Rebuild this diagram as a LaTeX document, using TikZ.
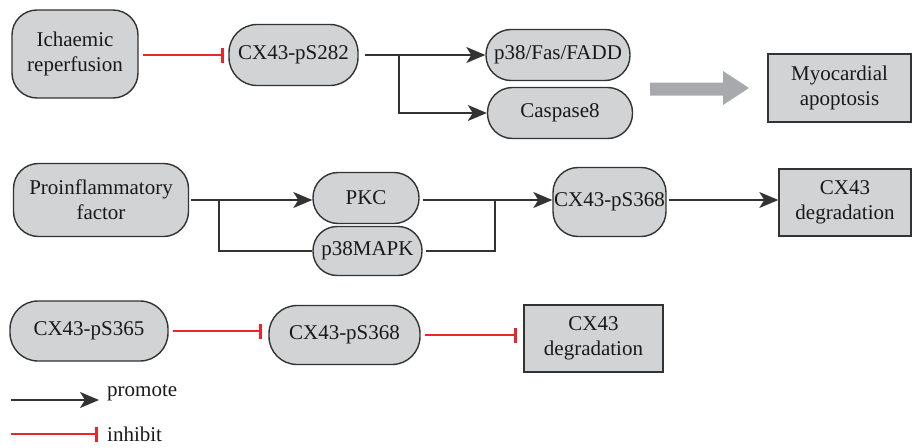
\documentclass[tikz,border=0pt]{standalone}
\usepackage{fontspec}
\setmainfont{Liberation Serif}
\usetikzlibrary{arrows.meta}
\definecolor{boxgray}{HTML}{D1D3D4}
\definecolor{edgegray}{HTML}{333333}
\definecolor{inhred}{HTML}{E8262B}
\definecolor{bigarrow}{HTML}{A7A9AC}
\begin{document}
\begin{tikzpicture}[x=1pt,y=-1pt,
    font=\fontsize{21}{25}\selectfont,
    box/.style={draw=edgegray,line width=1.4pt,fill=boxgray,inner sep=0pt,align=center,text=black!90},
    pill/.style={box,rounded corners=#1},
    link/.style={line width=1.3pt,black!80},
    promote/.style={link,-{Stealth[length=19pt,width=16pt,inset=5pt]}},
    inhibit/.style={-{Bar[width=15pt,line width=3pt]},line width=1.4pt,inhred}]
  \useasboundingbox (0,0) rectangle (912,447);
  \draw
    (75,54) node[pill=25pt,minimum width=126pt,minimum height=88pt] (isch){Ichaemic\\reperfusion}
    (293.5,55) node[pill=28pt,minimum width=129pt,minimum height=61pt] (s282){CX43-pS282}
    (558,55) node[pill=25pt,minimum width=144pt,minimum height=51pt] (fadd){p38/Fas/FADD}
    (560,113) node[pill=25pt,minimum width=145pt,minimum height=51pt] (casp){Caspase8}
    (839.5,88) node[box,minimum width=143pt,minimum height=68pt] (apop){Myocardial\\apoptosis}
    (101,200) node[pill=25pt,minimum width=175pt,minimum height=73pt] (infl){Proinflammatory\\factor}
    (366,198) node[pill=25pt,minimum width=106pt,minimum height=51pt] (pkc){PKC}
    (367.5,251) node[pill=24pt,minimum width=109pt,minimum height=49pt] (p38m){p38MAPK}
    (609.5,202) node[pill=25pt,minimum width=113pt,minimum height=69pt] (s368a){CX43-pS368}
    (845,202.5) node[box,minimum width=132pt,minimum height=67pt] (dega){CX43\\degradation}
    (89,331) node[pill=28pt,minimum width=158pt,minimum height=60pt] (s365){CX43-pS365}
    (344.5,335) node[pill=28pt,minimum width=151pt,minimum height=59pt] (s368b){CX43-pS368}
    (593.5,338.5) node[box,minimum width=139pt,minimum height=67pt] (degb){CX43\\degradation};
  % junctions
  \coordinate (j282) at (399,55);
  \coordinate (jinfl) at (219,200);
  \coordinate (jkin) at (495,200);
  % big grey arrow
  \fill[bigarrow] (650,82.5) -- (723,82.5) -- (723,71) -- (749,88)
    -- (723,105) -- (723,95.5) -- (650,95.5) -- cycle;
  \begin{scope}[shorten <=6pt]
    \draw[promote] (s282.east) -- (fadd.west);
    \draw[promote,shorten <=0pt] (j282) |- (casp.west);
    \draw[promote,shorten <=2pt] (infl.east |- jinfl) -- (jinfl -| pkc.west);
    \draw[link,shorten <=0pt] (jinfl) |- (p38m.west);
    \draw[link,shorten <=3pt] (pkc.east |- jkin) -- (jkin);
    \draw[link,shorten <=3pt] (p38m.east) -| (jkin);
    \draw[promote,shorten <=0pt] (jkin) -- (jkin -| s368a.west);
    \draw[promote,shorten <=2pt] (s368a.east |- jkin) -- (jkin -| dega.west);
  \end{scope}
  \begin{scope}[shorten <=4pt,shorten >=4pt]
    \draw[inhibit] (isch.east |- s282.west) -- (s282.west);
    \draw[inhibit,shorten >=6pt] (s365.east) -- (s365.east -| s368b.west);
    \draw[inhibit,shorten >=6pt] (s368b.east) -- (s368b.east -| degb.west);
  \end{scope}
  % legend
  \coordinate (promL) at (11,400);
  \coordinate (promR) at (99,400);
  \coordinate (inhL) at (11,434);
  \coordinate (inhR) at (98,434);
  \draw[promote] (promL) -- (promR);
  \draw[inhibit] (inhL) -- (inhR);
  \node[anchor=base west,inner sep=0pt,text=black!90] (promtxt) at (107,396) {promote};
  \node[anchor=base west,inner sep=0pt,text=black!90] (inhtxt) at (107,441) {inhibit};
\end{tikzpicture}
\end{document}
